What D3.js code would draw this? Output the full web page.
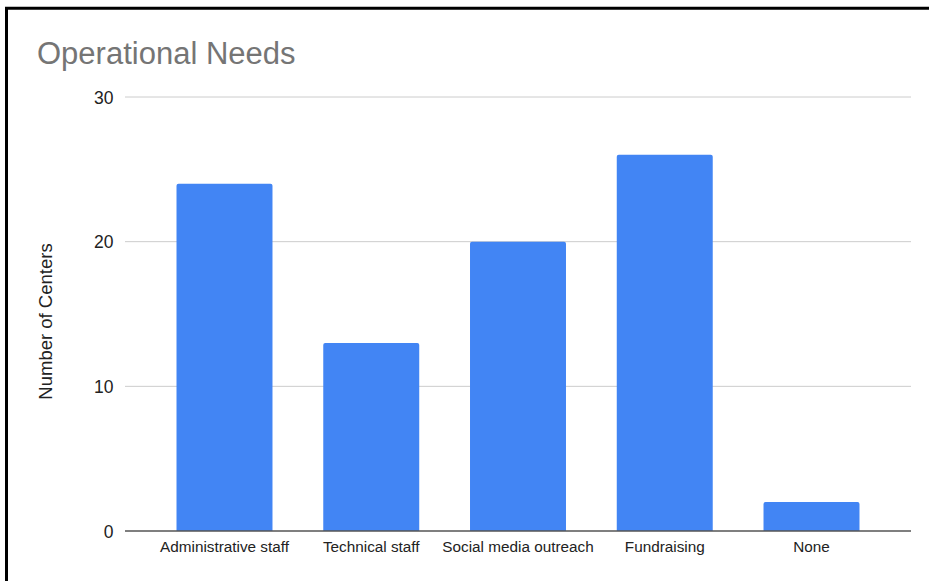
<!DOCTYPE html>
<html>
<head>
<meta charset="utf-8">
<script src="https://cdn.jsdelivr.net/npm/d3@7/dist/d3.min.js"></script>
<style>
  html, body { margin: 0; padding: 0; background: #fff; }
  svg { display: block; font-family: Arial, "Liberation Sans", sans-serif; }
</style>
</head>
<body>
<svg id="chart" width="929" height="581"></svg>
<script>
// Operational needs reported by centers
const categories = ["Administrative staff", "Technical staff", "Social media outreach", "Fundraising", "None"];
const counts = [24, 13, 20, 26, 2];
const yTicks = [0, 10, 20, 30];

const svg = d3.select("#chart");
const W = 929, H = 581;
const plot = { left: 125, right: 911, top: 97, bottom: 531 };

// Outer frame (left and top edges)
svg.append("line").attr("x1", 6.5).attr("x2", 6.5).attr("y1", 7).attr("y2", H)
  .attr("stroke", "#000").attr("stroke-width", 3);
svg.append("line").attr("x1", 5).attr("x2", W).attr("y1", 8.3).attr("y2", 8.3)
  .attr("stroke", "#000").attr("stroke-width", 3);

const x = d3.scaleBand()
  .domain(categories)
  .range([plot.left, plot.right])
  .paddingInner(0.346)
  .paddingOuter(0.351);

const y = d3.scaleLinear().domain([0, 30]).range([plot.bottom, plot.top]);

// Horizontal gridlines
svg.append("g")
  .selectAll("line")
  .data(yTicks.filter(d => d !== 0))
  .join("line")
  .attr("x1", plot.left).attr("x2", plot.right)
  .attr("y1", d => y(d)).attr("y2", d => y(d))
  .attr("stroke", "#cccccc").attr("stroke-width", 1);

// Y axis tick labels
const yAxis = d3.axisLeft(y).tickValues(yTicks).tickSize(0).tickPadding(11.5).tickFormat(d3.format("d"));
const gy = svg.append("g").attr("transform", `translate(${plot.left},0)`).call(yAxis);
gy.select(".domain").remove();
gy.selectAll("text").attr("font-size", 17.5).attr("fill", "#222").attr("font-family", "Arial, 'Liberation Sans', sans-serif").attr("dy", "0.36em");

// Bars with slightly rounded top corners
const r = 2;
svg.append("g")
  .selectAll("path")
  .data(categories.map((c, i) => ({ c, v: counts[i] })))
  .join("path")
  .attr("fill", "#4285f4")
  .attr("d", d => {
    const x0 = x(d.c), x1 = x0 + x.bandwidth();
    const yt = y(d.v), yb = y(0);
    return `M${x0},${yb}V${yt + r}Q${x0},${yt} ${x0 + r},${yt}H${x1 - r}Q${x1},${yt} ${x1},${yt + r}V${yb}Z`;
  });

// Baseline
svg.append("line")
  .attr("x1", plot.left).attr("x2", plot.right)
  .attr("y1", y(0)).attr("y2", y(0))
  .attr("stroke", "#555").attr("stroke-width", 1.5);

// X axis category labels
const xAxis = d3.axisBottom(x).tickSize(0).tickPadding(10);
const gx = svg.append("g").attr("transform", `translate(0,${plot.bottom})`).call(xAxis);
gx.select(".domain").remove();
gx.selectAll("text").attr("font-size", 15.3).attr("fill", "#222").attr("font-family", "Arial, 'Liberation Sans', sans-serif");

// Y axis title
svg.append("text")
  .attr("transform", `translate(52,321.5) rotate(-90)`)
  .attr("text-anchor", "middle")
  .attr("font-size", 18.5)
  .attr("fill", "#222")
  .text("Number of Centers");

// Chart title
svg.append("text")
  .attr("x", 37).attr("y", 64)
  .attr("font-size", 31)
  .attr("fill", "#757575")
  .text("Operational Needs");
</script>
</body>
</html>
